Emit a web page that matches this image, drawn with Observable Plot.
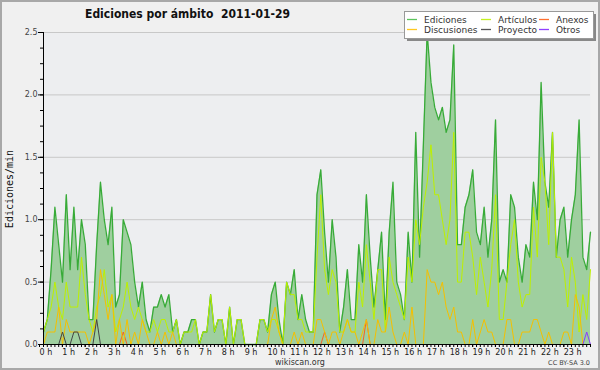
<!DOCTYPE html>
<html><head><meta charset="utf-8">
<script src="https://cdn.jsdelivr.net/npm/d3@7"></script>
<script src="https://cdn.jsdelivr.net/npm/@observablehq/plot@0.6"></script>
<style>
html,body{margin:0;padding:0;background:#f0f0f0;}
#chart{width:600px;height:370px;}
svg{display:block}
</style></head><body><div id="chart"></div>
<script>
// Edits per minute, 10-minute buckets, 00:00 .. 24:00
const ediciones = [
0.1,0.2,0.6,1.1,0.8,0.5,1.2,0.6,1.1,0.6,
1.0,0.8,0.2,0.2,0.8,1.3,1.0,0.8,1.1,0.3,
0.4,1.0,0.9,0.8,0.5,0.3,0.5,0.2,0.1,0.3,
0.3,0.4,0.3,0.4,0.1,0.2,0,0.1,0.1,0.2,
0.2,0,0.1,0.1,0.4,0.1,0.2,0.2,0,0.3,
0,0.2,0.2,0,0,0,0,0.2,0.2,0.1,
0.4,0.5,0.2,0,0.5,0.4,0.6,0.2,0.4,0.2,
0.1,0.1,1.2,1.4,0.9,0.5,1.0,0.7,0.1,0.3,
0.6,0.2,0.2,0.8,0.5,1.2,0.7,0.3,0.6,0.9,
0.2,0.9,1.3,0.5,0.4,0.2,0.9,0.5,1.7,0.7,
1.6,2.5,2.1,1.9,1.8,1.9,1.7,1.8,2.4,0.8,
0.8,1.1,1.2,1.4,0.9,0.8,1.1,0.7,1.0,1.8,
0.5,0.6,0.5,1.2,1.1,0.7,0.5,0.8,0.7,1.3,
1.0,2.1,1.3,1.1,1.7,0.7,1.0,1.1,0.7,1.0,
1.2,1.8,0.7,0.6,0.9
];
const articulos = [
0.1,0.2,0.3,0.5,0.3,0.2,0.5,0.3,0.3,0.3,
0.7,0.4,0.2,0.1,0.3,0.4,0.6,0.3,0.4,0.1,
0.2,0.3,0.5,0.3,0.2,0.3,0.2,0.1,0.1,0.2,
0.1,0.2,0.2,0.1,0.1,0.2,0,0.1,0.1,0.1,
0.2,0,0.1,0.1,0.4,0.1,0.2,0.2,0,0.3,
0,0.2,0.2,0,0,0,0,0.2,0.2,0.1,
0.2,0.2,0.1,0,0.5,0.4,0.4,0.2,0.2,0.1,
0.1,0.1,0.7,1.2,0.6,0.4,0.6,0.5,0.1,0.1,
0.2,0.1,0.1,0.5,0.3,0.8,0.5,0.2,0.6,0.6,
0.1,0.7,0.5,0.4,0.3,0.2,0.7,0.5,1.0,0.8,
1.1,1.3,1.6,1.2,1.2,1.0,0.8,1.0,1.7,0.5,
0.5,0.9,0.9,0.7,0.4,0.7,0.5,0.3,0.6,1.2,
0.2,0.2,0.5,0.8,1.0,0.5,0.3,0.4,0.4,1.1,
0.7,1.5,1.3,0.8,1.7,0.7,0.7,0.6,0.3,0.7,
0.5,0.1,0.4,0.2,0.6
];
const discusiones = [
0,0.1,0.1,0.1,0.3,0,0.2,0.1,0.1,0.1,
0.1,0.1,0,0.1,0.2,0.6,0.4,0.2,0.4,0,
0.2,0,0.2,0,0.1,0,0.2,0.1,0,0,
0.1,0,0.1,0,0.1,0,0,0,0,0,
0,0,0,0,0,0,0,0,0,0,
0,0,0,0,0,0,0,0,0,0,
0.2,0.3,0.1,0,0,0,0.1,0,0.1,0,
0,0,0.2,0.2,0.1,0,0.1,0.1,0,0.1,
0.2,0.1,0.1,0,0.1,0.2,0,0,0.2,0.1,
0.1,0.3,0.1,0,0,0.1,0,0.3,0,0,
0,0.6,0.5,0.5,0.4,0.5,0.3,0.2,0.3,0.1,
0.1,0,0,0.2,0,0.1,0.2,0.1,0.1,0,
0,0,0.2,0.2,0,0,0.1,0.1,0.1,0.2,
0.2,0.1,0,0.1,0,0,0,0.1,0.1,0,
0.4,0.3,0,0,0
];
const anexos = ediciones.map(() => 0);
anexos[21] = 0.1; anexos[74] = 0.1; anexos[85] = 0.2;
const proyecto = ediciones.map(() => 0);
proyecto[5] = 0.1; proyecto[8] = 0.1; proyecto[9] = 0.1; proyecto[14] = 0.2;
const otros = ediciones.map(() => 0);
otros[143] = 0.1;

const seriesNames = ["Ediciones","Artículos","Anexos","Discusiones","Proyecto","Otros"];
const hourTicks = d3.range(0, 24);
const minorXTicks = d3.range(0, 145).map(i => i / 6);
const yMajorTicks = [0, 0.5, 1, 1.5, 2, 2.5];
const yMinorTicks = d3.range(0, 21).map(i => i * 0.125);

const colors = {
  "Ediciones": "#38ab38", "Artículos": "#bdf000", "Anexos": "#f2622a",
  "Discusiones": "#f5c000", "Proyecto": "#444444", "Otros": "#8a3cff"
};
const legendColors = {
  "Ediciones": "#5cc45c", "Artículos": "#c4f020", "Anexos": "#ff7030",
  "Discusiones": "#ffc820", "Proyecto": "#555555", "Otros": "#9040ff"
};
const fillColor = "#9fcf9f";

const rows = ediciones.map((v, i) => ({
  h: i / 6, "Ediciones": v, "Artículos": articulos[i], "Anexos": anexos[i],
  "Discusiones": discusiones[i], "Proyecto": proyecto[i], "Otros": otros[i]
}));

const lineMarks = seriesNames.map(name =>
  Plot.lineY(rows, {x: "h", y: name, stroke: colors[name], strokeWidth: name === "Ediciones" ? 1.3 : 1, curve: "linear"}));

const chart = Plot.plot({
  width: 600, height: 370,
  marginLeft: 43, marginRight: 10, marginTop: 32, marginBottom: 26,
  style: {background: "#f0f0f0", fontFamily: "DejaVu Sans", fontSize: "8px", color: "#333", overflow: "visible"},
  x: {domain: [0, 24], label: null},
  y: {domain: [0, 2.5], label: null},
  marks: [
    Plot.frame({fill: "#edeef0", stroke: null}),
    Plot.gridY(yMajorTicks, {stroke: "#c8c8c8", strokeOpacity: 1}),
    Plot.areaY(rows, {x: "h", y: "Ediciones", fill: fillColor, fillOpacity: 1}),
    ...lineMarks,
    Plot.axisX(minorXTicks, {tickSize: 3, tickFormat: () => "", label: null, stroke: "#000"}),
    Plot.axisX(hourTicks, {tickSize: 3, tickPadding: 2, tickFormat: d => `${d} h`, textAnchor: "start", dx: -4, label: null, stroke: "#000", fill: "#222", fontSize: 8}),
    Plot.axisY(yMinorTicks, {tickSize: 3, tickFormat: () => "", label: null, stroke: "#000"}),
    Plot.axisY(yMajorTicks, {tickSize: 5, tickPadding: 1, tickFormat: d3.format(".1f"), label: null, stroke: "#000", fill: "#444", fontSize: 8}),
    Plot.ruleX([0], {stroke: "#000"}),
    Plot.ruleY([0], {stroke: "#000"})
  ]
});

const svg = d3.select(chart);
svg.append("rect").attr("x", 1).attr("y", 1).attr("width", 598).attr("height", 368)
  .attr("fill", "none").attr("stroke", "#a8a8a8").attr("stroke-width", 2);

svg.append("text").text("Ediciones por ámbito\u00a0\u00a02011-01-29")
  .attr("x", 85).attr("y", 18).attr("text-anchor", "start")
  .attr("textLength", 205).attr("lengthAdjust", "spacingAndGlyphs")
  .attr("font-family", "DejaVu Sans").attr("font-weight", "bold").attr("font-size", 12.5).attr("fill", "#111");

svg.append("text").text("Ediciones/min")
  .attr("transform", "translate(13,189) rotate(-90)").attr("text-anchor", "middle")
  .attr("font-family", "DejaVu Sans Mono").attr("font-size", 10).attr("fill", "#111");

svg.append("text").text("wikiscan.org").attr("x", 300).attr("y", 365).attr("text-anchor", "middle")
  .attr("font-family", "DejaVu Sans").attr("font-size", 8).attr("fill", "#333");
svg.append("text").text("CC BY-SA 3.0").attr("x", 590).attr("y", 365).attr("text-anchor", "end")
  .attr("font-family", "DejaVu Sans").attr("font-size", 6.5).attr("fill", "#444");

// legend
const lg = svg.append("g").attr("text-anchor", "start");
lg.append("rect").attr("x", 407).attr("y", 14).attr("width", 189).attr("height", 27).attr("fill", "#888");
lg.append("rect").attr("x", 404.5).attr("y", 11.5).attr("width", 189).attr("height", 27).attr("fill", "#fff").attr("stroke", "#999");
const legendLayout = [
  ["Ediciones", 0, 0], ["Artículos", 1, 0], ["Anexos", 2, 0],
  ["Discusiones", 0, 1], ["Proyecto", 1, 1], ["Otros", 2, 1]
];
const colX = [407, 481, 539];
legendLayout.forEach(([name, c, r]) => {
  const y = 19.5 + r * 10;
  lg.append("line").attr("x1", colX[c]).attr("x2", colX[c] + 10).attr("y1", y).attr("y2", y)
    .style("stroke", legendColors[name]).style("stroke-width", "1.3px");
  lg.append("text").text(name).attr("x", colX[c] + 17).attr("y", y + 3.2).attr("text-anchor", "start")
    .attr("font-family", "DejaVu Sans").attr("font-size", 9).attr("fill", "#333");
});

document.getElementById("chart").appendChild(chart);
</script>
</body></html>
